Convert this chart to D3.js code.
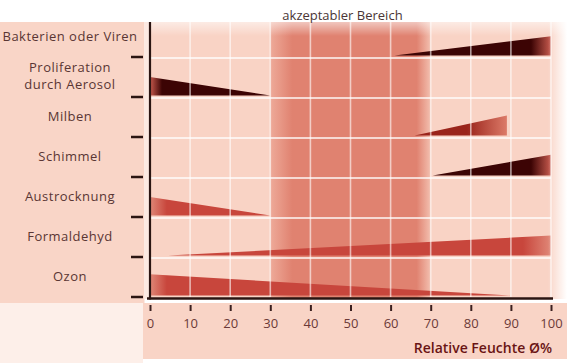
<!DOCTYPE html>
<html>
<head>
<meta charset="utf-8">
<script src="https://cdn.jsdelivr.net/npm/d3@7"></script>
<style>
  body { margin: 0; background: #fff; }
  text { font-family: "Open Sans", sans-serif; }
</style>
</head>
<body>
<svg id="chart" width="567" height="363"></svg>
<script>
// Einflüsse der relativen Luftfeuchte (Sterling-Diagramm)
var categories = ["Bakterien oder Viren", "Proliferation\ndurch Aerosol", "Milben", "Schimmel", "Austrocknung", "Formaldehyd", "Ozon"];
var startHumidity = [61, 0, 66, 70.5, 0, 4.5, 0];
var endHumidity = [100, 30, 89, 100, 30, 100, 90];
var startLevel = [0, 0.46, 0, 0, 0.46, 0, 0.53];
var endLevel = [0.48, 0, 0.5, 0.52, 0, 0.5, 0];
var severity = ["hoch", "hoch", "mittel", "hoch", "gering", "gering", "gering"];
var xTicks = [0, 10, 20, 30, 40, 50, 60, 70, 80, 90, 100];
var acceptable = [30, 70];

var svg = d3.select("#chart");
var width = 567, height = 363;
var ink = "#2b1512";

var x = d3.scaleLinear().domain([0, 100]).range([150, 551]);
var y = d3.scaleBand().domain(categories).range([18, 298]);
var bw = y.bandwidth();
var lvl = d3.scaleLinear().domain([0, 1]).range([0, bw]);

// colour per severity: base colour and the colour at the thick end
var baseColor = d3.scaleOrdinal().domain(["hoch", "mittel", "gering"]).range(["#3c0404", "#9a241b", "#c8463c"]);
var endColor = d3.scaleOrdinal().domain(["hoch", "mittel", "gering"]).range(["#c85a4e", "#dc7a68", "#e08878"]);

var defs = svg.append("defs");

// backgrounds
svg.append("rect").attr("x", 0).attr("y", 22).attr("width", 145).attr("height", 281).attr("fill", "#f9d5c7");
svg.append("rect").attr("x", 0).attr("y", 303).attr("width", 143).attr("height", 60).attr("fill", "#fdefe9");
svg.append("rect").attr("x", 143).attr("y", 303).attr("width", width - 143).attr("height", 56).attr("fill", "#f9d4c6");
svg.append("rect").attr("x", 145).attr("y", 22).attr("width", width - 145).attr("height", 277).attr("fill", "#f9d3c5");

// acceptable range band
var bandGrad = defs.append("linearGradient").attr("id", "band")
  .attr("gradientUnits", "userSpaceOnUse")
  .attr("x1", x(acceptable[0])).attr("x2", x(acceptable[1]));
var bw0 = x(acceptable[1]) - x(acceptable[0]);
bandGrad.append("stop").attr("offset", 0).attr("stop-color", "#eeaa99");
bandGrad.append("stop").attr("offset", 22 / bw0).attr("stop-color", "#e08270");
bandGrad.append("stop").attr("offset", 1 - 14 / bw0).attr("stop-color", "#e08270");
bandGrad.append("stop").attr("offset", 1).attr("stop-color", "#f3c0b0");
svg.append("rect")
  .attr("x", x(acceptable[0])).attr("y", 22)
  .attr("width", bw0).attr("height", 276)
  .attr("fill", "url(#band)");

// wedges
var rows = categories.map(function(c, i) {
  return { cat: c, x0: startHumidity[i], x1: endHumidity[i], h0: startLevel[i], h1: endLevel[i], sev: severity[i], i: i };
});

rows.forEach(function(d) {
  var g = defs.append("linearGradient").attr("id", "w" + d.i)
    .attr("gradientUnits", "userSpaceOnUse")
    .attr("x1", x(d.x0)).attr("x2", x(d.x1));
  var w = x(d.x1) - x(d.x0);
  var fade = d.sev == "mittel" ? 40 : (d.sev == "hoch" ? 20 : 28);
  if (d.h1 > d.h0) {
    g.append("stop").attr("offset", 0).attr("stop-color", baseColor(d.sev));
    g.append("stop").attr("offset", 1 - fade / w).attr("stop-color", baseColor(d.sev));
    g.append("stop").attr("offset", 1).attr("stop-color", endColor(d.sev));
  } else {
    g.append("stop").attr("offset", 0).attr("stop-color", endColor(d.sev));
    g.append("stop").attr("offset", (fade * 0.6) / w).attr("stop-color", baseColor(d.sev));
    g.append("stop").attr("offset", 1).attr("stop-color", baseColor(d.sev));
  }
});

svg.append("g").selectAll("path")
  .data(rows)
  .join("path")
  .attr("d", function(d) {
    var b = y(d.cat) + bw - 2.5;
    return "M" + x(d.x0) + "," + b +
      "L" + x(d.x0) + "," + (b - lvl(d.h0)) +
      "L" + x(d.x1) + "," + (b - lvl(d.h1)) +
      "L" + x(d.x1) + "," + b + "Z";
  })
  .attr("fill", function(d) { return "url(#w" + d.i + ")"; });

// grid lines
svg.append("g").selectAll("line")
  .data(xTicks.slice(1))
  .join("line")
  .attr("x1", function(d) { return x(d); }).attr("x2", function(d) { return x(d); })
  .attr("y1", 22).attr("y2", 297)
  .attr("stroke", "#fff").attr("stroke-width", 1.6).attr("stroke-opacity", 0.6);

svg.append("g").selectAll("line")
  .data(categories.slice(0, -1))
  .join("line")
  .attr("x1", x(0)).attr("x2", x(100))
  .attr("y1", function(d) { return y(d) + bw; }).attr("y2", function(d) { return y(d) + bw; })
  .attr("stroke", "#fff").attr("stroke-width", 2).attr("stroke-opacity", 0.7);

// fade to white at the top and right of the plot
var topFade = defs.append("linearGradient").attr("id", "topFade").attr("x1", 0).attr("x2", 0).attr("y1", 0).attr("y2", 1);
topFade.append("stop").attr("offset", 0).attr("stop-color", "#fff").attr("stop-opacity", 0.55);
topFade.append("stop").attr("offset", 1).attr("stop-color", "#fff").attr("stop-opacity", 0);
svg.append("rect").attr("x", 150).attr("y", 22).attr("width", width - 150).attr("height", 14).attr("fill", "url(#topFade)");

var rightFade = defs.append("linearGradient").attr("id", "rightFade");
rightFade.append("stop").attr("offset", 0).attr("stop-color", "#fff").attr("stop-opacity", 0);
rightFade.append("stop").attr("offset", 1).attr("stop-color", "#fff").attr("stop-opacity", 1);
svg.append("rect").attr("x", 548).attr("y", 20).attr("width", width - 548).attr("height", 279).attr("fill", "url(#rightFade)");

// white gap next to the axis
svg.append("rect").attr("x", 144).attr("y", 22).attr("width", 5).attr("height", 281).attr("fill", "#fff").attr("fill-opacity", 0.5);

// axis lines
svg.append("line").attr("x1", 150).attr("x2", 150).attr("y1", 22).attr("y2", 299.5)
  .attr("stroke", ink).attr("stroke-width", 2.2);
svg.append("line").attr("x1", 147).attr("x2", 553).attr("y1", 298.5).attr("y2", 298.5)
  .attr("stroke", ink).attr("stroke-width", 2.5);

// left ticks at row boundaries
svg.append("g").selectAll("line")
  .data(categories)
  .join("line")
  .attr("x1", 131).attr("x2", 143)
  .attr("y1", function(d) { return y(d) + bw - 1; }).attr("y2", function(d) { return y(d) + bw - 1; })
  .attr("stroke", ink).attr("stroke-width", 2.5);

// row labels
svg.append("g").selectAll("text")
  .data(categories)
  .join("text")
  .attr("x", 70)
  .attr("y", function(d) { return y(d) + bw / 2 - 2; })
  .attr("text-anchor", "middle")
  .attr("font-size", 13)
  .attr("letter-spacing", 0.5)
  .attr("fill", "#5a3634")
  .each(function(d) {
    var lines = d.split("\n");
    var t = d3.select(this);
    lines.forEach(function(l, k) {
      t.append("tspan")
        .attr("x", 70)
        .attr("dy", k == 0 ? (0.35 - (lines.length - 1) * 0.68) + "em" : "1.36em")
        .text(l);
    });
  });

// x axis
var xAxis = svg.append("g")
  .attr("transform", "translate(0,305)")
  .call(d3.axisBottom(x).tickValues(xTicks).tickSize(6).tickPadding(8).tickFormat(d3.format("d")));
xAxis.select(".domain").remove();
xAxis.selectAll(".tick line").attr("stroke", "#3a2020").attr("stroke-width", 2);
xAxis.selectAll(".tick text")
  .attr("font-size", 13).attr("fill", "#6b3a38")
  .style("font-family", "\"Open Sans\", sans-serif");

// titles
svg.append("text")
  .attr("x", x(48)).attr("y", 20)
  .attr("text-anchor", "middle")
  .attr("font-size", 13)
  .attr("fill", "#4a3636")
  .text("akzeptabler Bereich");

svg.append("text")
  .attr("x", 552).attr("y", 353)
  .attr("text-anchor", "end")
  .attr("font-size", 14)
  .attr("font-weight", 600)
  .attr("fill", "#6a1414")
  .text("Relative Feuchte Ø%");
</script>
</body>
</html>
